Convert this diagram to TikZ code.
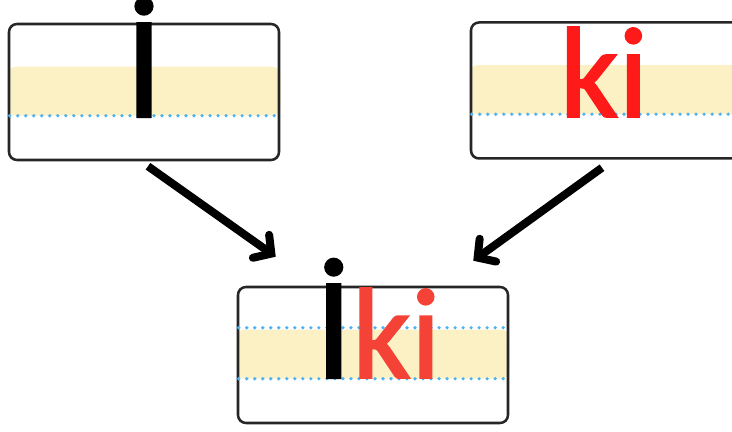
\documentclass[tikz,border=0pt]{standalone}
\usepackage{fontspec}
\newfontfamily\handfont{Carlito}[FakeBold=1.5]
\usetikzlibrary{arrows.meta,backgrounds,positioning}
\definecolor{slateline}{HTML}{262626}
\definecolor{bandyellow}{HTML}{FCF0C5}
\definecolor{guideblue}{HTML}{4FB3F0}
\definecolor{kired}{HTML}{FF1A1A}
\definecolor{ikired}{HTML}{F44336}
\newcommand{\bigI}{{\fontsize{104pt}{104pt}\selectfont İ}}
\tikzset{
  slate/.style={draw=slateline, line width=1.8pt, rounded corners=0.2cm,
    minimum width=6.75cm, minimum height=3.4cm, inner sep=0pt},
  band/.style={fill=bandyellow, rounded corners=0.2cm},
  guide/.style={draw=guideblue, line width=2.6pt, line cap=round, dash pattern=on 0pt off 5.7pt},
  letters/.style={font=\handfont\fontsize{92pt}{92pt}\selectfont, inner sep=0pt, anchor=base},
  pointer/.style={line width=5.7pt, -{Straight Barb[length=9pt,width=20pt,line cap=round]}},
}

\begin{document}
\begin{tikzpicture}
    %area del disegno
    \useasboundingbox (0,0) rectangle (18.3,10.8);
    \clip (0,0) rectangle (18.3,10.8);

    % tavolette
    \node[slate] (src1) at (3.6,8.5) {};
    \node[slate] (src2) at (15.15,8.538) {};
    \node[slate] (dst) at (9.325,1.925) {};

    % fasce gialle
    \begin{scope}[on background layer]
        \foreach \t in {src1,src2,dst}
            \fill[band] ([yshift=-1.1cm]\t.north west) rectangle ([yshift=-2.325cm]\t.north east);
    \end{scope}

    % righe guida
    \foreach \t in {src1,src2,dst}
        \draw[guide] ([shift={(0.05,-2.325)}]\t.north west) -- ([shift={(-0.05,-2.325)}]\t.north east);
    \draw[guide] ([shift={(0.05,-1.05)}]dst.north west) -- ([shift={(-0.05,-1.05)}]dst.north east);

    % lettere
    \node[letters] (ibig) at (3.6,7.875) {\bigI};
    \node[letters, text=kired] (ki) at (15.1,7.875) {ki};
    \node[letters] (iki) at (9.45,1.35) {\bigI\textcolor{ikired}{ki}};

    % frecce
    \draw[pointer] ([shift={(0.1,-0.125)}]src1.south) -- ([shift={(0.975,0.725)}]dst.north west);
    \draw[pointer] ([shift={(-0.1,-0.2)}]src2.south) -- ([shift={(-0.9,0.625)}]dst.north east);

\end{tikzpicture}
\end{document}
